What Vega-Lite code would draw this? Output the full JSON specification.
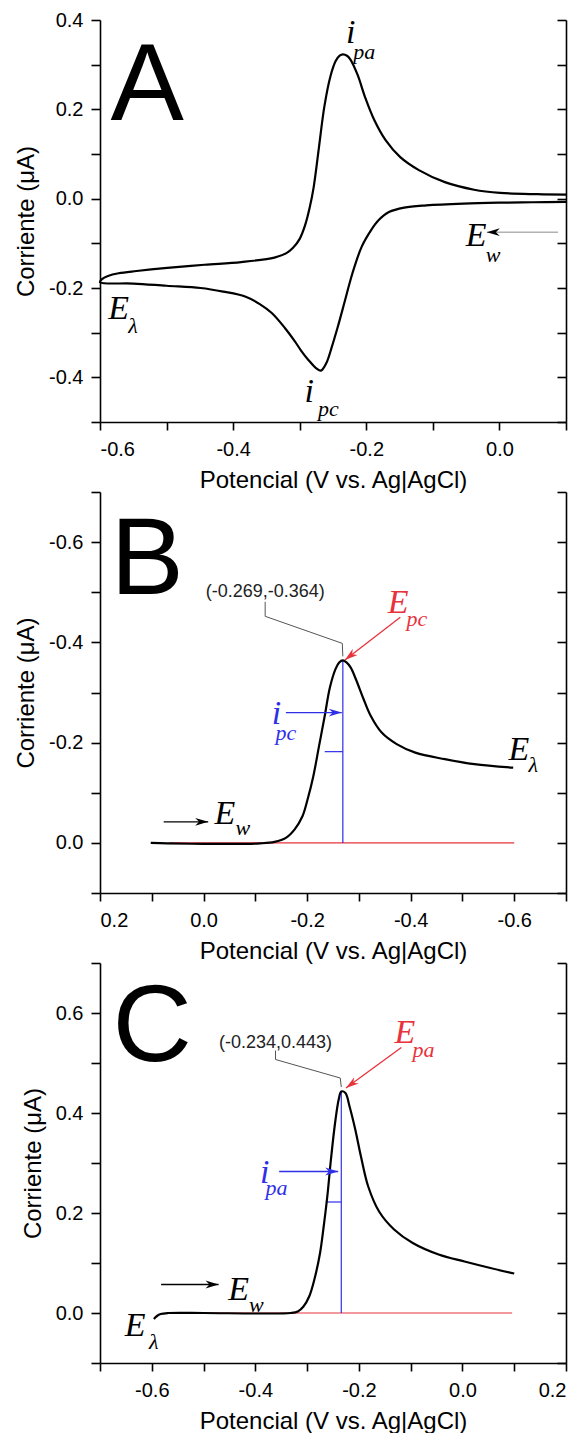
{
  "$schema": "https://vega.github.io/schema/vega-lite/v6.json",
  "padding": {"left": 14, "top": 10, "right": 0, "bottom": 0},
  "background": "white",
  "spacing": -10,
  "config": {
    "view": {"stroke": null},
    "axis": {
      "domainColor": "black", "domainWidth": 1.6, "tickColor": "black", "tickWidth": 1.6, "tickSize": 9,
      "labelFont": "Liberation Sans", "labelFontSize": 20, "labelColor": "black", "labelPadding": 8,
      "titleFont": "Liberation Sans", "titleFontSize": 24, "titleFontWeight": "normal", "titleColor": "black",
      "grid": false, "labelOverlap": false
    },
    "axisX": {"tickSize": 8, "labelPadding": 9.5, "titlePadding": 8.5},
    "axisY": {"titlePadding": 10},
    "text": {"color": "black"}
  },
  "datasets": {
    "A_curva": [
      {"i": 1, "x": 0.1, "y": -0.007}, {"i": 2, "x": 0.05, "y": -0.008}, {"i": 3, "x": 0.0, "y": -0.009},
      {"i": 4, "x": -0.054, "y": -0.011}, {"i": 5, "x": -0.11, "y": -0.015}, {"i": 6, "x": -0.143, "y": -0.02},
      {"i": 7, "x": -0.166, "y": -0.03}, {"i": 8, "x": -0.182, "y": -0.049}, {"i": 9, "x": -0.193, "y": -0.071},
      {"i": 10, "x": -0.207, "y": -0.108}, {"i": 11, "x": -0.221, "y": -0.168}, {"i": 12, "x": -0.232, "y": -0.228},
      {"i": 13, "x": -0.243, "y": -0.288}, {"i": 14, "x": -0.252, "y": -0.333}, {"i": 15, "x": -0.26, "y": -0.368},
      {"i": 16, "x": -0.268, "y": -0.385}, {"i": 17, "x": -0.275, "y": -0.38}, {"i": 18, "x": -0.287, "y": -0.361},
      {"i": 19, "x": -0.298, "y": -0.34}, {"i": 20, "x": -0.307, "y": -0.32}, {"i": 21, "x": -0.322, "y": -0.29},
      {"i": 22, "x": -0.342, "y": -0.256}, {"i": 23, "x": -0.36, "y": -0.236}, {"i": 24, "x": -0.382, "y": -0.219},
      {"i": 25, "x": -0.415, "y": -0.208}, {"i": 26, "x": -0.449, "y": -0.2}, {"i": 27, "x": -0.5, "y": -0.195},
      {"i": 28, "x": -0.55, "y": -0.19}, {"i": 29, "x": -0.6, "y": -0.187},
      {"i": 30, "x": -0.597, "y": -0.18}, {"i": 31, "x": -0.588, "y": -0.173}, {"i": 32, "x": -0.572, "y": -0.167},
      {"i": 33, "x": -0.545, "y": -0.162}, {"i": 34, "x": -0.499, "y": -0.155}, {"i": 35, "x": -0.443, "y": -0.148},
      {"i": 36, "x": -0.388, "y": -0.142}, {"i": 37, "x": -0.338, "y": -0.132}, {"i": 38, "x": -0.32, "y": -0.122},
      {"i": 39, "x": -0.31, "y": -0.11}, {"i": 40, "x": -0.3, "y": -0.09}, {"i": 41, "x": -0.292, "y": -0.06},
      {"i": 42, "x": -0.285, "y": -0.02}, {"i": 43, "x": -0.279, "y": 0.026}, {"i": 44, "x": -0.271, "y": 0.116},
      {"i": 45, "x": -0.263, "y": 0.206}, {"i": 46, "x": -0.254, "y": 0.273}, {"i": 47, "x": -0.246, "y": 0.308},
      {"i": 48, "x": -0.24, "y": 0.32}, {"i": 49, "x": -0.235, "y": 0.323}, {"i": 50, "x": -0.229, "y": 0.32},
      {"i": 51, "x": -0.224, "y": 0.312}, {"i": 52, "x": -0.213, "y": 0.277}, {"i": 53, "x": -0.202, "y": 0.228},
      {"i": 54, "x": -0.188, "y": 0.176}, {"i": 55, "x": -0.171, "y": 0.131}, {"i": 56, "x": -0.149, "y": 0.093},
      {"i": 57, "x": -0.121, "y": 0.064}, {"i": 58, "x": -0.082, "y": 0.037}, {"i": 59, "x": -0.038, "y": 0.02},
      {"i": 60, "x": 0.001, "y": 0.013}, {"i": 61, "x": 0.057, "y": 0.01}, {"i": 62, "x": 0.1, "y": 0.009}
    ],
    "A_notas": [
      {"x": -0.529, "y": 0.249, "t": "A", "nivel": "panel", "tipo": "general"},
      {"x": -0.2234, "y": 0.37, "t": "i", "nivel": "base", "tipo": "general"},
      {"x": -0.203, "y": 0.329, "t": "pa", "nivel": "sub", "tipo": "general"},
      {"x": -0.2856, "y": -0.432, "t": "i", "nivel": "base", "tipo": "general"},
      {"x": -0.257, "y": -0.471, "t": "pc", "nivel": "sub", "tipo": "general"},
      {"x": -0.572, "y": -0.246, "t": "E", "nivel": "base", "tipo": "general"},
      {"x": -0.5505, "y": -0.285, "t": "λ", "nivel": "sub", "tipo": "general"},
      {"x": -0.035, "y": -0.083, "t": "E", "nivel": "base", "tipo": "general"},
      {"x": -0.0095, "y": -0.126, "t": "w", "nivel": "sub", "tipo": "general"}
    ],
    "A_flechas": [
      {"nombre": "E_w", "x": 0.088, "y": -0.075, "x2": -0.019, "y2": -0.075, "tipo": "general"}
    ],
    "B_curva": [
      {"i": 1, "x": 0.102, "y": 0.0}, {"i": 2, "x": 0.07, "y": 0.001}, {"i": 3, "x": 0.0, "y": 0.002},
      {"i": 4, "x": -0.073, "y": 0.002}, {"i": 5, "x": -0.109, "y": 0.001}, {"i": 6, "x": -0.137, "y": -0.002},
      {"i": 7, "x": -0.159, "y": -0.01}, {"i": 8, "x": -0.176, "y": -0.027}, {"i": 9, "x": -0.191, "y": -0.053},
      {"i": 10, "x": -0.201, "y": -0.087}, {"i": 11, "x": -0.212, "y": -0.133}, {"i": 12, "x": -0.223, "y": -0.193},
      {"i": 13, "x": -0.234, "y": -0.253}, {"i": 14, "x": -0.244, "y": -0.31}, {"i": 15, "x": -0.255, "y": -0.347},
      {"i": 16, "x": -0.262, "y": -0.36}, {"i": 17, "x": -0.269, "y": -0.364}, {"i": 18, "x": -0.276, "y": -0.36},
      {"i": 19, "x": -0.284, "y": -0.35}, {"i": 20, "x": -0.294, "y": -0.327}, {"i": 21, "x": -0.309, "y": -0.287},
      {"i": 22, "x": -0.323, "y": -0.253}, {"i": 23, "x": -0.344, "y": -0.22}, {"i": 24, "x": -0.373, "y": -0.197},
      {"i": 25, "x": -0.409, "y": -0.18}, {"i": 26, "x": -0.466, "y": -0.167}, {"i": 27, "x": -0.523, "y": -0.157},
      {"i": 28, "x": -0.598, "y": -0.15}
    ],
    "B_notas": [
      {"x": 0.109, "y": -0.563, "t": "B", "nivel": "panel", "tipo": "general"},
      {"x": -0.119, "y": -0.5, "t": "(-0.269,-0.364)", "nivel": "coord", "tipo": "general"},
      {"x": -0.376, "y": -0.479, "t": "E", "nivel": "base", "tipo": "potencial"},
      {"x": -0.412, "y": -0.447, "t": "pc", "nivel": "sub", "tipo": "potencial"},
      {"x": -0.141, "y": -0.257, "t": "i", "nivel": "base", "tipo": "corriente"},
      {"x": -0.159, "y": -0.22, "t": "pc", "nivel": "sub", "tipo": "corriente"},
      {"x": -0.041, "y": -0.057, "t": "E", "nivel": "base", "tipo": "general"},
      {"x": -0.076, "y": -0.03, "t": "w", "nivel": "sub", "tipo": "general"},
      {"x": -0.609, "y": -0.185, "t": "E", "nivel": "base", "tipo": "general"},
      {"x": -0.637, "y": -0.155, "t": "λ", "nivel": "sub", "tipo": "general"}
    ],
    "B_guia": [
      {"i": 1, "x": -0.119, "y": -0.481}, {"i": 2, "x": -0.119, "y": -0.452},
      {"i": 3, "x": -0.268, "y": -0.398}, {"i": 4, "x": -0.269, "y": -0.372}
    ],
    "B_lineas": [
      {"x": 0.066, "y": 0.0, "x2": -0.6, "y2": 0.0, "tipo": "potencial"},
      {"x": -0.269, "y": 0.0, "x2": -0.269, "y2": -0.364, "tipo": "corriente"},
      {"x": -0.234, "y": -0.182, "x2": -0.269, "y2": -0.182, "tipo": "corriente"}
    ],
    "B_flechas": [
      {"nombre": "E_w", "x": 0.077, "y": -0.042, "x2": -0.009, "y2": -0.042, "tipo": "general"},
      {"nombre": "i_pc", "x": -0.159, "y": -0.26, "x2": -0.267, "y2": -0.26, "tipo": "corriente"},
      {"nombre": "E_pc", "x": -0.38, "y": -0.45, "x2": -0.273, "y2": -0.365, "tipo": "potencial"}
    ],
    "C_curva": [
      {"i": 1, "x": -0.596, "y": -0.012}, {"i": 2, "x": -0.59, "y": -0.006}, {"i": 3, "x": -0.583, "y": -0.002},
      {"i": 4, "x": -0.568, "y": 0.0}, {"i": 5, "x": -0.5, "y": 0.0}, {"i": 6, "x": -0.389, "y": -0.001},
      {"i": 7, "x": -0.332, "y": 0.0}, {"i": 8, "x": -0.318, "y": 0.003}, {"i": 9, "x": -0.307, "y": 0.013},
      {"i": 10, "x": -0.296, "y": 0.033}, {"i": 11, "x": -0.286, "y": 0.067}, {"i": 12, "x": -0.275, "y": 0.12},
      {"i": 13, "x": -0.268, "y": 0.173}, {"i": 14, "x": -0.261, "y": 0.233}, {"i": 15, "x": -0.254, "y": 0.307},
      {"i": 16, "x": -0.246, "y": 0.38}, {"i": 17, "x": -0.239, "y": 0.427}, {"i": 18, "x": -0.234, "y": 0.443},
      {"i": 19, "x": -0.226, "y": 0.44}, {"i": 20, "x": -0.218, "y": 0.413}, {"i": 21, "x": -0.207, "y": 0.367},
      {"i": 22, "x": -0.196, "y": 0.313}, {"i": 23, "x": -0.182, "y": 0.253}, {"i": 24, "x": -0.161, "y": 0.203},
      {"i": 25, "x": -0.132, "y": 0.167}, {"i": 26, "x": -0.096, "y": 0.14}, {"i": 27, "x": -0.046, "y": 0.117},
      {"i": 28, "x": 0.004, "y": 0.103}, {"i": 29, "x": 0.054, "y": 0.09}, {"i": 30, "x": 0.1, "y": 0.079}
    ],
    "C_notas": [
      {"x": -0.599, "y": 0.57, "t": "C", "nivel": "panel", "tipo": "general"},
      {"x": -0.361, "y": 0.54, "t": "(-0.234,0.443)", "nivel": "coord", "tipo": "general"},
      {"x": -0.111, "y": 0.56, "t": "E", "nivel": "base", "tipo": "potencial"},
      {"x": -0.075, "y": 0.527, "t": "pa", "nivel": "sub", "tipo": "potencial"},
      {"x": -0.382, "y": 0.28, "t": "i", "nivel": "base", "tipo": "corriente"},
      {"x": -0.359, "y": 0.25, "t": "pa", "nivel": "sub", "tipo": "corriente"},
      {"x": -0.432, "y": 0.047, "t": "E", "nivel": "base", "tipo": "general"},
      {"x": -0.398, "y": 0.017, "t": "w", "nivel": "sub", "tipo": "general"},
      {"x": -0.632, "y": -0.025, "t": "E", "nivel": "base", "tipo": "general"},
      {"x": -0.596, "y": -0.057, "t": "λ", "nivel": "sub", "tipo": "general"}
    ],
    "C_guia": [
      {"i": 1, "x": -0.361, "y": 0.525}, {"i": 2, "x": -0.361, "y": 0.507},
      {"i": 3, "x": -0.236, "y": 0.47}, {"i": 4, "x": -0.234, "y": 0.452}
    ],
    "C_lineas": [
      {"x": -0.511, "y": 0.0, "x2": 0.096, "y2": 0.0, "tipo": "potencial"},
      {"x": -0.234, "y": 0.0, "x2": -0.234, "y2": 0.443, "tipo": "corriente"},
      {"x": -0.264, "y": 0.222, "x2": -0.234, "y2": 0.222, "tipo": "corriente"}
    ],
    "C_flechas": [
      {"nombre": "E_w", "x": -0.582, "y": 0.057, "x2": -0.471, "y2": 0.057, "tipo": "general"},
      {"nombre": "i_pa", "x": -0.354, "y": 0.283, "x2": -0.24, "y2": 0.283, "tipo": "corriente"},
      {"nombre": "E_pa", "x": -0.118, "y": 0.531, "x2": -0.225, "y2": 0.45, "tipo": "potencial"}
    ]
  },
  "resolve": {"scale": {"x": "independent", "y": "independent", "color": "independent"}},
  "vconcat": [
    {
      "width": 466, "height": 402,
      "encoding": {
        "x": {"field": "x", "type": "quantitative", "scale": {"domain": [-0.6, 0.1], "nice": false, "zero": false},
          "axis": {"title": "Potencial (V vs. Ag|AgCl)", "orient": "bottom", "values": [-0.6, -0.5, -0.4, -0.3, -0.2, -0.1, 0, 0.1],
            "labelExpr": "abs(round(datum.value*10)) % 2 == 0 ? replace(format(datum.value, '.1f'), '−', '-') : ''"}},
        "y": {"field": "y", "type": "quantitative", "scale": {"domain": [-0.5, 0.4], "nice": false, "zero": false}, "axis": null},
        "color": {"field": "tipo", "type": "nominal", "scale": {"domain": ["general", "potencial", "corriente"], "range": ["black", "#e8323c", "#2f2fe8"]}, "legend": null}
      },
      "layer": [
        {
          "data": {"name": "A_curva"},
          "mark": {"type": "line", "color": "black", "strokeWidth": 2.2, "interpolate": "catmull-rom"},
          "encoding": {
            "y": {"field": "y", "type": "quantitative", "scale": {"domain": [-0.5, 0.4], "nice": false, "zero": false},
              "axis": {"title": "Corriente (μA)", "orient": "left", "values": [-0.5, -0.4, -0.3, -0.2, -0.1, 0, 0.1, 0.2, 0.3, 0.4],
                "labelExpr": "abs(round(datum.value*10)) % 2 == 0 ? replace(format(datum.value, '.1f'), '−', '-') : ''"}},
            "order": {"field": "i", "type": "quantitative"},
            "color": {"value": "black"}
          }
        },
        {
          "data": {"name": "A_notas"},
          "transform": [{"filter": "datum.nivel == 'panel'"}],
          "mark": {"type": "text", "font": "Liberation Sans", "fontSize": 110, "align": "center", "baseline": "middle"},
          "encoding": {
            "text": {"field": "t"},
            "y": {"field": "y", "type": "quantitative", "scale": {"domain": [-0.5, 0.4], "nice": false, "zero": false},
              "axis": {"orient": "right", "title": null, "labels": false, "tickSize": -9, "values": [-0.5, -0.4, -0.3, -0.2, -0.1, 0, 0.1, 0.2, 0.3, 0.4]}}
          }
        },
        {
          "data": {"name": "A_notas"},
          "transform": [{"filter": "datum.nivel == 'base'"}],
          "mark": {"type": "text", "font": "Liberation Serif", "fontStyle": "italic", "fontSize": 34, "align": "center", "baseline": "middle"},
          "encoding": {"text": {"field": "t"}}
        },
        {
          "data": {"name": "A_notas"},
          "transform": [{"filter": "datum.nivel == 'sub'"}],
          "mark": {"type": "text", "font": "Liberation Serif", "fontStyle": "italic", "fontSize": 22, "align": "center", "baseline": "middle"},
          "encoding": {"text": {"field": "t"}}
        },
        {
          "data": {"name": "A_flechas"},
          "mark": {"type": "rule", "strokeWidth": 1, "color": "#8a8a8a"},
          "encoding": {"x2": {"field": "x2"}, "y2": {"field": "y2"}, "color": {"value": "#8a8a8a"}}
        },
        {
          "data": {"name": "A_flechas"},
          "mark": {"type": "point", "filled": true, "opacity": 1, "size": 170, "angle": 180, "shape": "M0,0L-2,-0.6L-1.4,0L-2,0.6Z"},
          "encoding": {"x": {"field": "x2"}, "y": {"field": "y2"}}
        }
      ],
      "resolve": {"axis": {"y": "independent"}}
    },
    {
      "width": 466, "height": 401,
      "encoding": {
        "x": {"field": "x", "type": "quantitative", "scale": {"domain": [-0.7, 0.2], "reverse": true, "nice": false, "zero": false},
          "axis": {"title": "Potencial (V vs. Ag|AgCl)", "orient": "bottom", "values": [0.2, 0.1, 0, -0.1, -0.2, -0.3, -0.4, -0.5, -0.6, -0.7],
            "labelExpr": "abs(round(datum.value*10)) % 2 == 0 ? replace(format(datum.value, '.1f'), '−', '-') : ''"}},
        "y": {"field": "y", "type": "quantitative", "scale": {"domain": [-0.7, 0.1], "reverse": true, "nice": false, "zero": false}, "axis": null},
        "color": {"field": "tipo", "type": "nominal", "scale": {"domain": ["general", "potencial", "corriente"], "range": ["black", "#e8323c", "#2f2fe8"]}, "legend": null}
      },
      "layer": [
        {
          "data": {"name": "B_lineas"},
          "mark": {"type": "rule", "strokeWidth": 1.2},
          "encoding": {"x2": {"field": "x2"}, "y2": {"field": "y2"}}
        },
        {
          "data": {"name": "B_curva"},
          "mark": {"type": "line", "color": "black", "strokeWidth": 2.2, "interpolate": "catmull-rom"},
          "encoding": {
            "y": {"field": "y", "type": "quantitative", "scale": {"domain": [-0.7, 0.1], "reverse": true, "nice": false, "zero": false},
              "axis": {"title": "Corriente (μA)", "orient": "left", "values": [-0.7, -0.6, -0.5, -0.4, -0.3, -0.2, -0.1, 0, 0.1],
                "labelExpr": "abs(round(datum.value*10)) % 2 == 0 ? replace(format(datum.value, '.1f'), '−', '-') : ''"}},
            "order": {"field": "i", "type": "quantitative"},
            "color": {"value": "black"}
          }
        },
        {
          "data": {"name": "B_guia"},
          "mark": {"type": "line", "color": "#555555", "strokeWidth": 1},
          "encoding": {"order": {"field": "i", "type": "quantitative"}, "color": {"value": "#555555"}}
        },
        {
          "data": {"name": "B_notas"},
          "transform": [{"filter": "datum.nivel == 'panel'"}],
          "mark": {"type": "text", "font": "Liberation Sans", "fontSize": 110, "align": "center", "baseline": "middle"},
          "encoding": {
            "text": {"field": "t"},
            "y": {"field": "y", "type": "quantitative", "scale": {"domain": [-0.7, 0.1], "reverse": true, "nice": false, "zero": false},
              "axis": {"orient": "right", "title": null, "labels": false, "tickSize": -9, "values": [-0.7, -0.6, -0.5, -0.4, -0.3, -0.2, -0.1, 0, 0.1]}}
          }
        },
        {
          "data": {"name": "B_notas"},
          "transform": [{"filter": "datum.nivel == 'coord'"}],
          "mark": {"type": "text", "font": "Liberation Sans", "fontSize": 18, "align": "center", "baseline": "middle", "color": "#222222"},
          "encoding": {"text": {"field": "t"}, "color": {"value": "#222222"}}
        },
        {
          "data": {"name": "B_notas"},
          "transform": [{"filter": "datum.nivel == 'base'"}],
          "mark": {"type": "text", "font": "Liberation Serif", "fontStyle": "italic", "fontSize": 34, "align": "center", "baseline": "middle"},
          "encoding": {"text": {"field": "t"}}
        },
        {
          "data": {"name": "B_notas"},
          "transform": [{"filter": "datum.nivel == 'sub'"}],
          "mark": {"type": "text", "font": "Liberation Serif", "fontStyle": "italic", "fontSize": 22, "align": "center", "baseline": "middle"},
          "encoding": {"text": {"field": "t"}}
        },
        {
          "data": {"name": "B_flechas"},
          "mark": {"type": "rule", "strokeWidth": 1.3},
          "encoding": {"x2": {"field": "x2"}, "y2": {"field": "y2"}}
        },
        {
          "data": {"name": "B_flechas"},
          "transform": [{"filter": "datum.nombre != 'E_pc'"}],
          "mark": {"type": "point", "filled": true, "opacity": 1, "size": 170, "angle": 0, "shape": "M0,0L-2,-0.6L-1.4,0L-2,0.6Z"},
          "encoding": {"x": {"field": "x2"}, "y": {"field": "y2"}}
        },
        {
          "data": {"name": "B_flechas"},
          "transform": [{"filter": "datum.nombre == 'E_pc'"}],
          "mark": {"type": "point", "filled": true, "opacity": 1, "size": 170, "angle": 142, "shape": "M0,0L-2,-0.6L-1.4,0L-2,0.6Z"},
          "encoding": {"x": {"field": "x2"}, "y": {"field": "y2"}}
        }
      ],
      "resolve": {"axis": {"y": "independent"}}
    },
    {
      "width": 466, "height": 400,
      "encoding": {
        "x": {"field": "x", "type": "quantitative", "scale": {"domain": [-0.7, 0.2], "nice": false, "zero": false},
          "axis": {"title": "Potencial (V vs. Ag|AgCl)", "orient": "bottom", "values": [-0.7, -0.6, -0.5, -0.4, -0.3, -0.2, -0.1, 0, 0.1, 0.2],
            "labelExpr": "abs(round(datum.value*10)) % 2 == 0 ? replace(format(datum.value, '.1f'), '−', '-') : ''"}},
        "y": {"field": "y", "type": "quantitative", "scale": {"domain": [-0.1, 0.7], "nice": false, "zero": false}, "axis": null},
        "color": {"field": "tipo", "type": "nominal", "scale": {"domain": ["general", "potencial", "corriente"], "range": ["black", "#e8323c", "#2f2fe8"]}, "legend": null}
      },
      "layer": [
        {
          "data": {"name": "C_lineas"},
          "mark": {"type": "rule", "strokeWidth": 1.2},
          "encoding": {"x2": {"field": "x2"}, "y2": {"field": "y2"}}
        },
        {
          "data": {"name": "C_curva"},
          "mark": {"type": "line", "color": "black", "strokeWidth": 2.2, "interpolate": "catmull-rom"},
          "encoding": {
            "y": {"field": "y", "type": "quantitative", "scale": {"domain": [-0.1, 0.7], "nice": false, "zero": false},
              "axis": {"title": "Corriente (μA)", "orient": "left", "values": [-0.1, 0, 0.1, 0.2, 0.3, 0.4, 0.5, 0.6, 0.7],
                "labelExpr": "abs(round(datum.value*10)) % 2 == 0 ? replace(format(datum.value, '.1f'), '−', '-') : ''"}},
            "order": {"field": "i", "type": "quantitative"},
            "color": {"value": "black"}
          }
        },
        {
          "data": {"name": "C_guia"},
          "mark": {"type": "line", "color": "#555555", "strokeWidth": 1},
          "encoding": {"order": {"field": "i", "type": "quantitative"}, "color": {"value": "#555555"}}
        },
        {
          "data": {"name": "C_notas"},
          "transform": [{"filter": "datum.nivel == 'panel'"}],
          "mark": {"type": "text", "font": "Liberation Sans", "fontSize": 110, "align": "center", "baseline": "middle"},
          "encoding": {
            "text": {"field": "t"},
            "y": {"field": "y", "type": "quantitative", "scale": {"domain": [-0.1, 0.7], "nice": false, "zero": false},
              "axis": {"orient": "right", "title": null, "labels": false, "tickSize": -9, "values": [-0.1, 0, 0.1, 0.2, 0.3, 0.4, 0.5, 0.6, 0.7]}}
          }
        },
        {
          "data": {"name": "C_notas"},
          "transform": [{"filter": "datum.nivel == 'coord'"}],
          "mark": {"type": "text", "font": "Liberation Sans", "fontSize": 18, "align": "center", "baseline": "middle", "color": "#222222"},
          "encoding": {"text": {"field": "t"}, "color": {"value": "#222222"}}
        },
        {
          "data": {"name": "C_notas"},
          "transform": [{"filter": "datum.nivel == 'base'"}],
          "mark": {"type": "text", "font": "Liberation Serif", "fontStyle": "italic", "fontSize": 34, "align": "center", "baseline": "middle"},
          "encoding": {"text": {"field": "t"}}
        },
        {
          "data": {"name": "C_notas"},
          "transform": [{"filter": "datum.nivel == 'sub'"}],
          "mark": {"type": "text", "font": "Liberation Serif", "fontStyle": "italic", "fontSize": 22, "align": "center", "baseline": "middle"},
          "encoding": {"text": {"field": "t"}}
        },
        {
          "data": {"name": "C_flechas"},
          "mark": {"type": "rule", "strokeWidth": 1.3},
          "encoding": {"x2": {"field": "x2"}, "y2": {"field": "y2"}}
        },
        {
          "data": {"name": "C_flechas"},
          "transform": [{"filter": "datum.nombre != 'E_pa'"}],
          "mark": {"type": "point", "filled": true, "opacity": 1, "size": 170, "angle": 0, "shape": "M0,0L-2,-0.6L-1.4,0L-2,0.6Z"},
          "encoding": {"x": {"field": "x2"}, "y": {"field": "y2"}}
        },
        {
          "data": {"name": "C_flechas"},
          "transform": [{"filter": "datum.nombre == 'E_pa'"}],
          "mark": {"type": "point", "filled": true, "opacity": 1, "size": 170, "angle": 144, "shape": "M0,0L-2,-0.6L-1.4,0L-2,0.6Z"},
          "encoding": {"x": {"field": "x2"}, "y": {"field": "y2"}}
        }
      ],
      "resolve": {"axis": {"y": "independent"}}
    }
  ]
}
